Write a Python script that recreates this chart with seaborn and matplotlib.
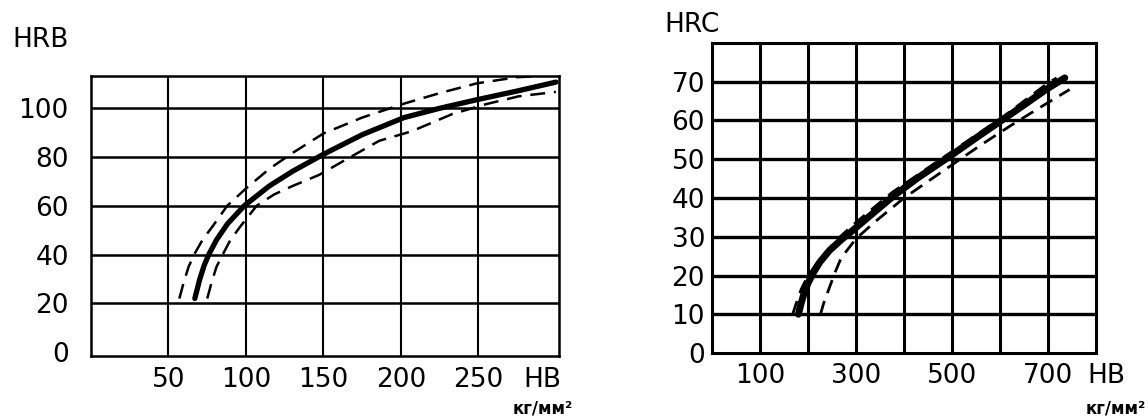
import matplotlib
matplotlib.use("Agg")
import matplotlib.pyplot as plt
import seaborn as sns

# ---- data ----
# Left chart: HRB vs HB
hrb_solid_hb = [67, 70, 73, 76, 81, 88, 99, 115, 130, 150, 175, 202, 225, 249, 276, 300]
hrb_solid = [22, 29.5, 35.5, 40, 46, 52.5, 60, 68, 74, 81, 89, 96, 99.8, 103.3, 107, 110.5]
hrb_upper_hb = [57, 60, 63, 67, 72, 79, 88, 100, 115, 130, 150, 175, 202, 225, 249, 275, 290]
hrb_upper = [22, 29, 35, 40.5, 46, 52, 60, 67, 75, 81.5, 89.5, 96, 101.7, 106, 110, 112.5, 113]
hrb_lower_hb = [75, 78, 81, 85, 90, 97, 107, 118, 130, 147, 165, 186, 207, 233, 255, 276, 300]
hrb_lower = [22, 29, 35, 40, 46, 52, 60, 64.5, 68, 72.5, 79, 86.5, 90.4, 97.4, 101.5, 104.7, 106.5]

# Right chart: HRC vs HB
hrc_solid_hb = [180, 185, 192, 200, 210, 225, 245, 270, 290, 330, 378, 430, 496, 550, 609, 650, 696, 735]
hrc_solid = [10, 12.5, 15.5, 18, 20.5, 23.5, 26.5, 29.3, 31.3, 35.5, 40.5, 45.3, 50.8, 55.5, 60.5, 64, 68, 71]
hrc_upper_hb = [168, 176, 186, 198, 220, 258, 298, 376, 494, 607, 698, 718]
hrc_upper = [10, 13, 16.5, 19.5, 23.5, 29, 33.5, 41.5, 51.5, 61, 69.5, 71]
hrc_lower_hb = [226, 233, 245, 257, 269, 300, 341, 400, 470, 558, 620, 672, 745]
hrc_lower = [10, 13, 17, 21, 24.5, 29.5, 34, 40, 46, 53.5, 58.5, 62.5, 68]

hrb_xticks = [50, 100, 150, 200, 250]
hrb_xlabels = ["50", "100", "150", "200", "250"]
hrb_yticks = [0, 20, 40, 60, 80, 100]
hrc_xticks = [100, 300, 500, 700]
hrc_xlabels = ["100", "300", "500", "700"]
hrc_yticks = [0, 10, 20, 30, 40, 50, 60, 70]

sns.set_style("white")
plt.rcParams['font.family'] = ['DejaVu Sans']
plt.rcParams['text.color'] = 'black'
plt.rcParams['xtick.color'] = 'black'
plt.rcParams['ytick.color'] = 'black'
plt.rcParams['xtick.labelcolor'] = 'black'
plt.rcParams['ytick.labelcolor'] = 'black'

fig = plt.figure(figsize=(11.48, 4.19), dpi=100)
axL = fig.add_axes([91 / 1148, 1 - 356 / 419, (559 - 91) / 1148, (356 - 76) / 419])
axR = fig.add_axes([712 / 1148, 1 - 353 / 419, (1096 - 712) / 1148, (353 - 43) / 419])

FS = 19

# ---- left chart ----
axL.set_xlim(0, 302)
axL.set_ylim(-1.5, 113)
for v in [50, 100, 150, 200, 250]:
    axL.axvline(v, color="black", lw=1.5, zorder=1)
for h in [20, 40, 60, 80, 100]:
    axL.axhline(h, color="black", lw=1.8, zorder=1)
sns.lineplot(x=hrb_solid_hb, y=hrb_solid, ax=axL, sort=False, estimator=None,
             color="black", lw=3.8, zorder=3)
sns.lineplot(x=hrb_upper_hb, y=hrb_upper, ax=axL, sort=False, estimator=None,
             color="black", lw=1.8, zorder=3)
sns.lineplot(x=hrb_lower_hb, y=hrb_lower, ax=axL, sort=False, estimator=None,
             color="black", lw=1.8, zorder=3)
for ln in axL.lines[-3:]:
    ln.set_solid_joinstyle("round")
    ln.set_solid_capstyle("round")
for ln in axL.lines[-2:]:
    ln.set_dashes((6, 3.5))
axL.set_xticks(hrb_xticks)
axL.set_xticklabels(hrb_xlabels)
axL.set_yticks(hrb_yticks)
axL.tick_params(axis="x", length=0, pad=8, labelsize=FS, colors="black")
axL.tick_params(axis="y", length=0, pad=16, labelsize=FS, colors="black")
for s in axL.spines.values():
    s.set_visible(True)
    s.set_color("black")
    s.set_linewidth(1.8)
axL.set_xlabel("")
axL.set_ylabel("")
axL.annotate("HB", xy=(291, 0), xycoords=axL.get_xaxis_transform(),
             xytext=(0, -8), textcoords="offset points",
             fontsize=FS, ha="center", va="top", annotation_clip=False)

# ---- right chart ----
axR.set_xlim(0, 800)
axR.set_ylim(0, 80)
for v in [100, 200, 300, 400, 500, 600, 700]:
    axR.axvline(v, color="black", lw=2.2, zorder=1)
for h in [10, 20, 30, 40, 50, 60, 70]:
    axR.axhline(h, color="black", lw=2.4, zorder=1)
sns.lineplot(x=hrc_solid_hb, y=hrc_solid, ax=axR, sort=False, estimator=None,
             color="black", lw=5.0, zorder=3)
sns.lineplot(x=hrc_upper_hb, y=hrc_upper, ax=axR, sort=False, estimator=None,
             color="black", lw=2.0, zorder=3)
sns.lineplot(x=hrc_lower_hb, y=hrc_lower, ax=axR, sort=False, estimator=None,
             color="black", lw=2.0, zorder=3)
for ln in axR.lines[-3:]:
    ln.set_solid_joinstyle("round")
    ln.set_solid_capstyle("round")
for ln in axR.lines[-2:]:
    ln.set_dashes((5, 3))
axR.set_xticks(hrc_xticks)
axR.set_xticklabels(hrc_xlabels)
axR.set_yticks(hrc_yticks)
axR.tick_params(axis="x", length=0, pad=7, labelsize=FS, colors="black")
axR.tick_params(axis="y", length=0, pad=5, labelsize=FS, colors="black")
for s in axR.spines.values():
    s.set_visible(True)
    s.set_color("black")
    s.set_linewidth(2.2)
axR.set_xlabel("")
axR.set_ylabel("")
axR.annotate("HB", xy=(822, 0), xycoords=axR.get_xaxis_transform(),
             xytext=(0, -7), textcoords="offset points",
             fontsize=FS, ha="center", va="top", annotation_clip=False)

# ---- titles / units ----
fig.text(12 / 1148, 1 - 47 / 419, "HRB", fontsize=FS, ha="left", va="baseline")
fig.text(664 / 1148, 1 - 32 / 419, "HRC", fontsize=FS, ha="left", va="baseline")
fig.text(573 / 1148, 1 - 408 / 419, "кг/мм²", fontsize=12, fontweight="bold",
         ha="right", va="center")
fig.text(1146 / 1148, 1 - 408 / 419, "кг/мм²", fontsize=12, fontweight="bold",
         ha="right", va="center")

fig.savefig("out.png", dpi=100, facecolor="white")
